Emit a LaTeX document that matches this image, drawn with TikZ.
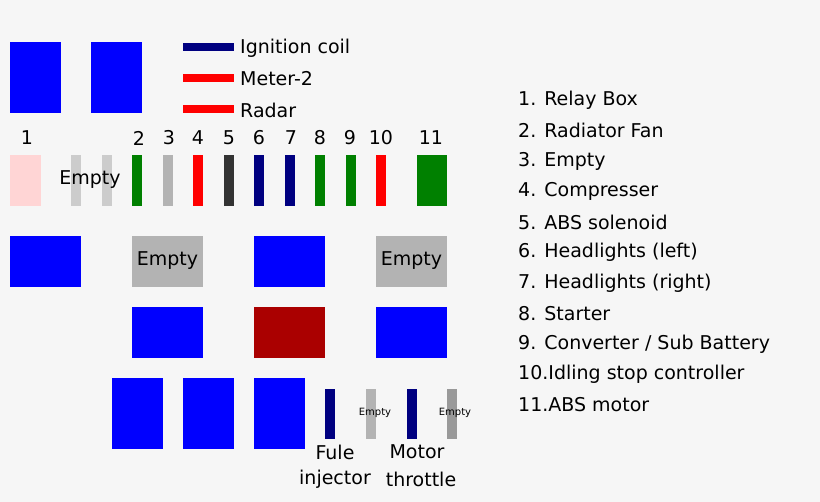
\documentclass[tikz,border=0pt]{standalone}
\usepackage{fontspec}
\setmainfont{DejaVu Sans}
\begin{document}
\begin{tikzpicture}[x=1pt,y=-1pt,
 bx/.style={draw=none},
 t/.style={font=\fontsize{19}{22}\selectfont,inner sep=0pt},
 st/.style={font=\fontsize{10}{12}\selectfont,inner sep=0pt}]
\definecolor{bg}{HTML}{F6F6F6}
\definecolor{pb}{HTML}{0000FF}
\definecolor{nv}{HTML}{000080}
\definecolor{gr}{HTML}{008000}
\definecolor{rd}{HTML}{FF0000}
\definecolor{lg}{HTML}{B3B3B3}
\definecolor{lg2}{HTML}{CCCCCC}
\definecolor{pk}{HTML}{FFD5D5}
\definecolor{dr}{HTML}{AA0000}
\fill[bg] (0,0) rectangle (820,502);
\useasboundingbox (0,0) rectangle (820,502);
% top
\fill[pb] (10,42) rectangle (61,113);
\fill[pb] (91,42) rectangle (142,113);
\fill[nv] (183,43) rectangle (234,51);
\fill[rd] (183,74) rectangle (234,82);
\fill[rd] (183,105) rectangle (234,113);
\node[t,anchor=west] (l1) at (240,48) {Ignition coil};
\node[t,anchor=west] (l2) at (240,79) {Meter-2};
\node[t,anchor=west] (l3) at (240,110) {Radar};
% fuse row
\fill[pk] (10,155) rectangle (41,206);
\fill[lg2] (71,155) rectangle (81,206);
\fill[lg2] (102,155) rectangle (112,206);
\node[t] (e0) at (90,180) {Empty};
\foreach \x/\c in {132/gr,163/lg,193/rd,224/black!80,254/nv,285/nv,315/gr,346/gr,376/rd}
  \fill[\c] (\x,155) rectangle (\x+10,206);
\fill[gr] (417,155) rectangle (447,206);
\foreach \n/\x in {1/27,2/139,3/169,4/198,5/229,6/259,7/291,8/320,9/350,10/381,11/431}
  \node[t] (n\n) at (\x,138) {\n};
% row 3
\fill[pb] (10,236) rectangle (81,287);
\fill[lg] (132,236) rectangle (203,287);
\node[t] (e1) at (167.5,261) {Empty};
\fill[pb] (254,236) rectangle (325,287);
\fill[lg] (376,236) rectangle (447,287);
\node[t] (e2) at (411.5,261) {Empty};
% row 4
\fill[pb] (132,307) rectangle (203,358);
\fill[dr] (254,307) rectangle (325,358);
\fill[pb] (376,307) rectangle (447,358);
% row 5
\fill[pb] (112,378) rectangle (163,449);
\fill[pb] (183,378) rectangle (234,449);
\fill[pb] (254,378) rectangle (305,449);
\fill[nv] (325,389) rectangle (335,439);
\fill[lg] (366,389) rectangle (376,439);
\fill[nv] (407,389) rectangle (417,439);
\fill[black!40] (447,389) rectangle (457,439);
\node[st] (e3) at (375,413) {Empty};
\node[st] (e4) at (455,413) {Empty};
\node[t] (f1) at (335,452) {Fule};
\node[t] (f2) at (335,479) {injector};
\node[t] (m1) at (417,452) {Motor};
\node[t] (m2) at (421,479) {throttle};
% list
\foreach \i/\s in {1/{1. Relay Box},2/{2. Radiator Fan},3/{3. Empty},4/{4. Compresser},5/{5. ABS solenoid},6/{6. Headlights (left)},7/{7. Headlights (right)},8/{8. Starter},9/{9. Converter / Sub Battery},10/{10.Idling stop controller},11/{11.ABS motor}}
  \node[t,anchor=west] (li\i) at (518,100+30.5*\i-30.5) {\s};
\end{tikzpicture}
\end{document}
